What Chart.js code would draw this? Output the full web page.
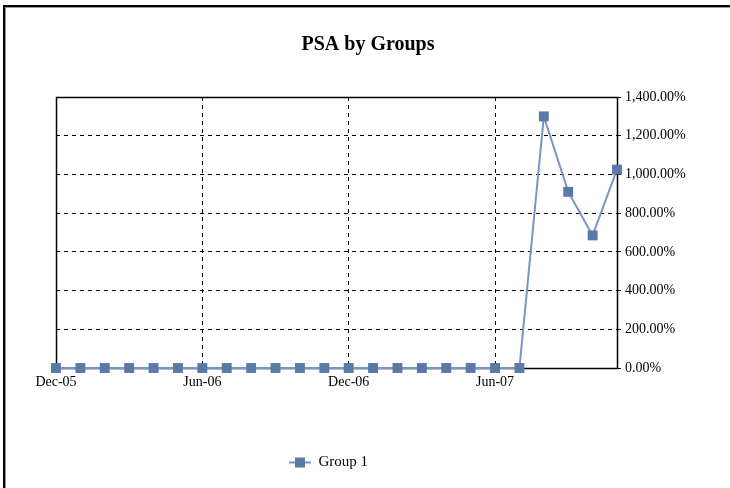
<!DOCTYPE html>
<html>
<head>
<meta charset="utf-8">
<title>PSA by Groups</title>
<script src="https://cdn.jsdelivr.net/npm/chart.js@4.4.1/dist/chart.umd.min.js"></script>
<style>
  html, body { margin: 0; padding: 0; background: #fff; overflow: hidden; }
  #wrap { position: relative; width: 730px; height: 488px; }
</style>
</head>
<body>
<div id="wrap"><canvas id="chart" width="730" height="488"></canvas></div>
<script>
// Monthly observation dates
const months = [
  'Dec-05', 'Jan-06', 'Feb-06', 'Mar-06', 'Apr-06', 'May-06',
  'Jun-06', 'Jul-06', 'Aug-06', 'Sep-06', 'Oct-06', 'Nov-06',
  'Dec-06', 'Jan-07', 'Feb-07', 'Mar-07', 'Apr-07', 'May-07',
  'Jun-07', 'Jul-07', 'Aug-07', 'Sep-07', 'Oct-07', 'Nov-07'
];

// PSA (%) for Group 1
const group1 = [
  0, 0, 0, 0, 0, 0,
  0, 0, 0, 0, 0, 0,
  0, 0, 0, 0, 0, 0,
  0, 0, 1300, 910, 685, 1025
];

// Right-hand axis ticks (%)
const yTicks = [0, 200, 400, 600, 800, 1000, 1200, 1400];

// Every sixth month gets a label and a vertical grid line
const labelEvery = 6;

const LINE_COLOR = '#7b94c2';
const MARKER_COLOR = '#5b78a8';
const SERIF = "'Liberation Serif', 'Times New Roman', serif";

Chart.defaults.font.family = SERIF;
Chart.defaults.color = '#000';

// Legend key: short line with a square marker across it
const legendIcon = document.createElement('canvas');
legendIcon.width = 22;
legendIcon.height = 12;
(function () {
  const g = legendIcon.getContext('2d');
  g.strokeStyle = LINE_COLOR;
  g.lineWidth = 2;
  g.beginPath();
  g.moveTo(0, 6);
  g.lineTo(22, 6);
  g.stroke();
  g.fillStyle = MARKER_COLOR;
  g.fillRect(6, 1, 10, 10);
})();

// White background, outer frame, solid plot border and block placement
const framePlugin = {
  id: 'frame',
  beforeDraw(chart) {
    const ctx = chart.ctx;
    ctx.save();
    ctx.fillStyle = '#fff';
    ctx.fillRect(0, 0, chart.width, chart.height);
    ctx.strokeStyle = '#000';
    ctx.lineWidth = 2;
    ctx.strokeRect(4, 6, chart.width + 40, chart.height + 40);
    ctx.strokeStyle = '#9a9a9a';
    ctx.lineWidth = 1;
    ctx.strokeRect(5.5, 7.5, chart.width + 40, chart.height + 40);
    ctx.restore();
  },
  beforeDatasetsDraw(chart) {
    const a = chart.chartArea;
    const ctx = chart.ctx;
    ctx.save();
    ctx.strokeStyle = '#000';
    ctx.lineWidth = 1.5;
    ctx.setLineDash([]);
    ctx.strokeRect(Math.round(a.left) + 0.5, Math.round(a.top) + 0.5,
                   Math.round(a.right - a.left), Math.round(a.bottom - a.top));
    ctx.restore();
  },
  afterLayout(chart) {
    // centre the title on the page and set the legend slightly left of the plot centre
    const tb = chart.titleBlock;
    if (tb) { tb.left -= 25; tb.right -= 25; }
    const lg = chart.legend;
    if (lg) { lg.left -= 8; lg.right -= 8; }
  }
};

new Chart(document.getElementById('chart'), {
  type: 'line',
  data: {
    labels: months,
    datasets: [{
      label: 'Group 1',
      data: group1,
      borderColor: LINE_COLOR,
      backgroundColor: MARKER_COLOR,
      borderWidth: 2,
      pointStyle: 'rect',
      pointRadius: 7,
      pointBackgroundColor: MARKER_COLOR,
      pointBorderColor: MARKER_COLOR,
      pointBorderWidth: 0,
      tension: 0,
      clip: false
    }]
  },
  options: {
    responsive: false,
    animation: false,
    events: [],
    layout: { padding: { left: 56, right: 0, top: 0, bottom: 8 } },
    plugins: {
      title: {
        display: true,
        text: 'PSA by Groups',
        color: '#000',
        font: { family: SERIF, size: 20, weight: 'bold' },
        padding: { top: 33, bottom: 40 }
      },
      legend: {
        display: true,
        position: 'bottom',
        fullSize: false,
        labels: {
          usePointStyle: true,
          pointStyleWidth: 22,
          padding: 10,
          color: '#000',
          font: { family: SERIF, size: 15 },
          generateLabels(chart) {
            return chart.data.datasets.map((ds, i) => ({
              text: ds.label,
              pointStyle: legendIcon,
              fillStyle: MARKER_COLOR,
              strokeStyle: LINE_COLOR,
              lineWidth: 0,
              hidden: false,
              datasetIndex: i
            }));
          }
        }
      },
      tooltip: { enabled: false }
    },
    scales: {
      x: {
        type: 'category',
        offset: false,
        grid: {
          color: c => (c.index % labelEvery === 0 ? '#000' : 'rgba(0,0,0,0)'),
          lineWidth: 1,
          drawTicks: false
        },
        border: { display: false, dash: [4, 4] },
        ticks: {
          autoSkip: false,
          maxRotation: 0,
          minRotation: 0,
          padding: 6,
          color: '#000',
          font: { family: SERIF, size: 14 },
          callback: (v, i) => (i % labelEvery === 0 ? months[i] : '')
        },
        afterFit(scale) { scale.height = 77; }
      },
      y: {
        position: 'right',
        min: yTicks[0],
        max: yTicks[yTicks.length - 1],
        afterBuildTicks(scale) { scale.ticks = yTicks.map(v => ({ value: v })); },
        grid: {
          color: '#000',
          lineWidth: 1,
          drawTicks: true,
          tickLength: 4,
          tickColor: '#000'
        },
        border: { display: false, dash: [4, 4] },
        ticks: {
          padding: 4,
          color: '#000',
          font: { family: SERIF, size: 14 },
          callback: v => v.toLocaleString('en-US', { minimumFractionDigits: 2, maximumFractionDigits: 2 }) + '%'
        },
        afterFit(scale) { scale.width = 113; }
      }
    }
  },
  plugins: [framePlugin]
});
</script>
</body>
</html>
